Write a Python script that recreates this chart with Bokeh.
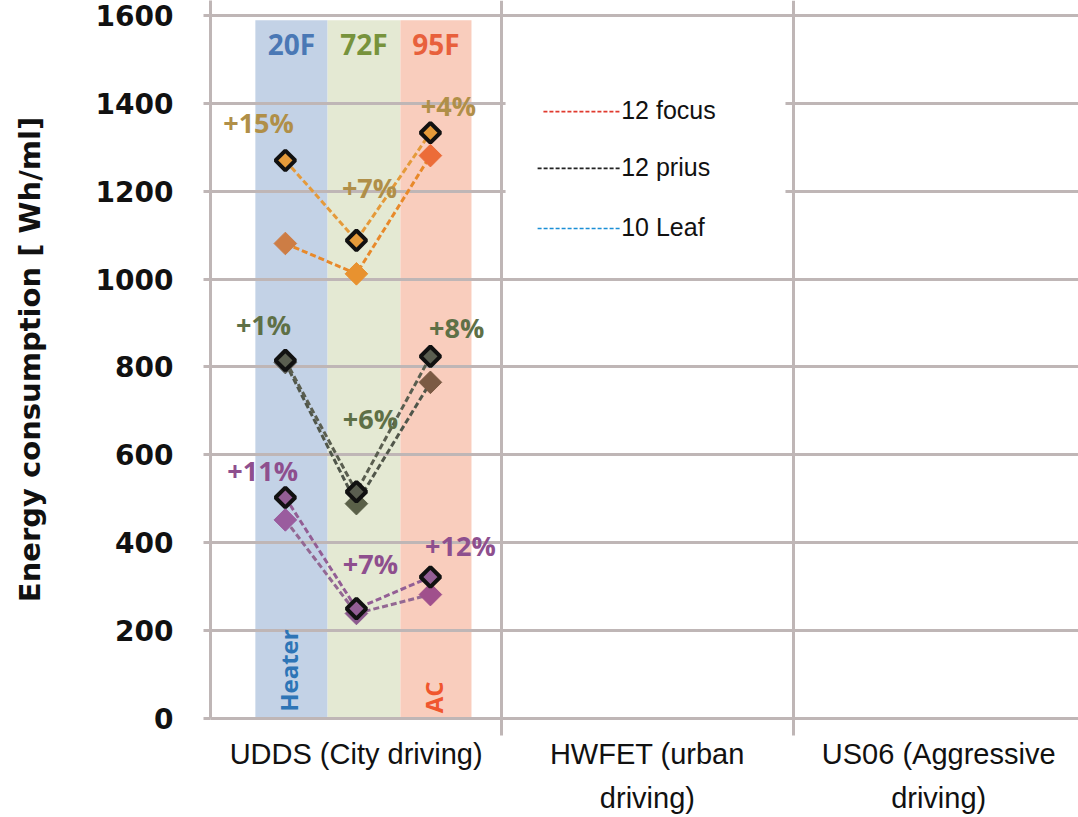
import numpy as np
from bokeh.plotting import figure
from bokeh.models import FixedTicker, Range1d
from bokeh.core.properties import value
from bokeh.embed import file_html
from bokeh.resources import INLINE

# ---------------- data ----------------
cycles = ["UDDS (City driving)", "HWFET (urban\ndriving)", "US06 (Aggressive\ndriving)"]
temps = ["20F", "72F", "95F"]
y_ticks = [0, 200, 400, 600, 800, 1000, 1200, 1400, 1600]

focus_outlined = [1270, 1088, 1333]
focus_filled = [1081, 1012, 1281]
prius_outlined = [815, 516, 824]
prius_filled = [810, 489, 765]
leaf_outlined = [503, 250, 322]
leaf_filled = [452, 239, 282]

focus_pct = ["+15%", "+7%", "+4%"]
prius_pct = ["+1%", "+6%", "+8%"]
leaf_pct = ["+11%", "+7%", "+12%"]

legend_names = ["12 focus", "12 prius", "10 Leaf"]
band_notes = ["Heater", "", "AC"]

# ---------------- layout constants ----------------
temp_x = [0.257, 0.501, 0.755]          # positions of the temperature columns inside UDDS
band_left = [0.154, 0.402, 0.652]
band_right = [0.402, 0.652, 0.896]
band_fill = ["#c3d2e6", "#e4e9d3", "#f9cdbd"]
band_text_col = ["#4a78b5", "#77933c", "#e8603c"]
GRID = "#bfb6b6"

p = figure(width=1078, height=817, x_range=Range1d(0, 2.98), y_range=Range1d(0, 1634),
           output_backend="svg", toolbar_location=None,
           min_border_left=210, min_border_right=0, min_border_top=0, min_border_bottom=99)
p.outline_line_color = None
p.background_fill_color = "white"

# temperature bands
p.quad(left=band_left, right=band_right, bottom=0, top=1589,
       fill_color=band_fill, line_color=None, level="image")

# band labels
cx = [(a + b) / 2 for a, b in zip(band_left, band_right)]
p.text(x=cx, y=[1536] * 3, text=temps, text_color=band_text_col,
       text_font=value("Open Sans"), text_font_style="bold", text_font_size="28px",
       text_align="center", text_baseline="middle")
p.text(x=[temp_x[0] + 0.012, temp_x[2] + 0.01], y=[109, 48], text=[band_notes[0], band_notes[2]],
       text_color=["#2e75b6", "#f0562e"], angle=np.pi / 2,
       text_font=value("Open Sans"), text_font_style="bold", text_font_size="24px",
       text_align="center", text_baseline="middle")

# grid & axes
p.xgrid.ticker = FixedTicker(ticks=[1, 2])
p.xgrid.grid_line_color = GRID
p.xgrid.grid_line_width = 3
p.ygrid.ticker = FixedTicker(ticks=y_ticks)
p.ygrid.grid_line_color = GRID
p.ygrid.grid_line_width = 3

p.yaxis.ticker = FixedTicker(ticks=y_ticks)
p.yaxis.axis_line_color = GRID
p.yaxis.axis_line_width = 3
p.yaxis.major_tick_line_color = GRID
p.yaxis.major_tick_line_width = 3
p.yaxis.major_tick_out = 7
p.yaxis.major_tick_in = 0
p.yaxis.minor_tick_line_color = None
p.yaxis.major_label_standoff = 30
p.yaxis.major_label_text_font = "DejaVu Sans"
p.yaxis.major_label_text_font_style = "bold"
p.yaxis.major_label_text_font_size = "28px"
p.yaxis.major_label_text_color = "#111111"
p.yaxis.axis_label = "Energy consumption [ Wh/ml]"
p.yaxis.axis_label_text_font = "DejaVu Sans"
p.yaxis.axis_label_text_font_style = "bold"
p.yaxis.axis_label_text_font_size = "29px"
p.yaxis.axis_label_text_color = "#111111"
p.yaxis.axis_label_standoff = 46

p.xaxis.ticker = FixedTicker(ticks=[0.5, 1.5, 2.5], minor_ticks=[1, 2])
p.xaxis.major_label_overrides = {0.5: cycles[0], 1.5: cycles[1], 2.5: cycles[2]}
p.xaxis.axis_line_color = GRID
p.xaxis.axis_line_width = 3
p.xaxis.major_tick_line_color = None
p.xaxis.minor_tick_line_color = GRID
p.xaxis.minor_tick_line_width = 3
p.xaxis.minor_tick_out = 17
p.xaxis.minor_tick_in = 0
p.xaxis.major_label_standoff = 2
p.xaxis.major_label_text_font = "Liberation Sans"
p.xaxis.major_label_text_font_size = "29px"
p.xaxis.major_label_text_color = "#111111"
p.xaxis.major_label_text_line_height = 1.4

# legend box (covers the grid)
p.quad(left=1.013, right=1.974, bottom=1054, top=1497, fill_color="white", line_color=None)
leg_y = [1381, 1252, 1115]
p.segment(x0=[1.143, 1.123, 1.123], x1=[1.407] * 3, y0=leg_y, y1=leg_y,
          line_color=["#e03a2e", "#222222", "#1b8fd6"], line_dash="4 2", line_width=1.6)
p.text(x=[1.41] * 3, y=[v + 3 for v in leg_y], text=legend_names, text_color="#111111",
       text_font=value("Liberation Sans"), text_font_size="25px",
       text_align="left", text_baseline="middle")

# series
groups = [
    (focus_outlined, focus_filled, "#e59a3a", ["#cd7d45", "#e8922f", "#ec6c38"], "#e8892a", focus_pct, "#b08f48",
     [(0.165, 1356), (0.546, 1208), (0.817, 1395)]),
    (prius_outlined, prius_filled, "#5a5e50", ["#5b5c56", "#5a6048", "#7b5a44"], "#50564a", prius_pct, "#5e7046",
     [(0.182, 897), (0.549, 683), (0.845, 890)]),
    (leaf_outlined, leaf_filled, "#935e95", ["#9a5c9e", "#8c5a8e", "#a0508c"], "#936893", leaf_pct, "#8e4f8e",
     [(0.179, 564), (0.549, 353), (0.858, 394)]),
]
for outl, fill, ocol, fcols, lcol, pct, pcol, ppos in groups:
    p.line(temp_x, fill, line_color=lcol, line_width=3, line_dash="6 3")
    p.line(temp_x, outl, line_color=ocol, line_width=3, line_dash="6 3")
    p.scatter(temp_x, fill, marker="square", angle=np.pi / 4, size=16,
              fill_color=fcols, line_color=fcols, line_width=1)
    p.scatter(temp_x, outl, marker="square", angle=np.pi / 4, size=14,
              fill_color=ocol, line_color="#111111", line_width=4)
    p.text(x=[a for a, b in ppos], y=[b for a, b in ppos], text=pct, text_color=pcol,
           text_font=value("Open Sans"), text_font_style="bold", text_font_size="27px",
           text_align="center", text_baseline="middle")

open("out.html", "w").write(file_html(p, INLINE))
